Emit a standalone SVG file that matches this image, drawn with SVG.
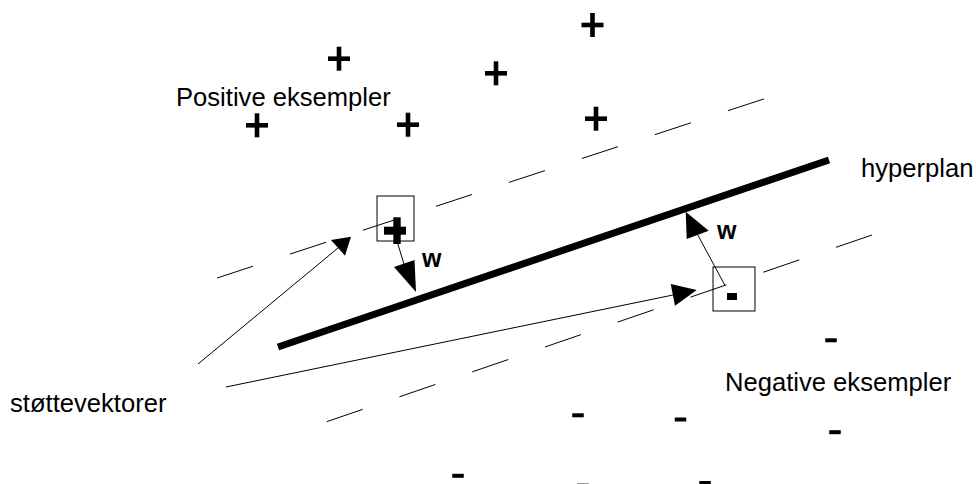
<svg xmlns="http://www.w3.org/2000/svg" xmlns:xlink="http://www.w3.org/1999/xlink" width="976" height="484" viewBox="0 0 976 484">
  <style>
    .lbl { font-family: "Liberation Sans", Arial, sans-serif; font-size: 25.6px; fill: #000; }
    .w { font-family: "Liberation Sans", Arial, sans-serif; font-size: 25px; font-weight: bold; fill: #000; }
    .thin { stroke: #000; stroke-width: 1; fill: none; }
    .box { stroke: #000; stroke-width: 1; fill: none; }
    .head { fill: #000; stroke: none; }
    .margin { stroke: #000; stroke-width: 1; fill: none; }
  </style>
  <defs>
    <g id="plus">
      <rect x="-11" y="-2.3" width="22" height="4.6" fill="#000"/>
      <rect x="-2.3" y="-12" width="4.6" height="24" fill="#000"/>
    </g>
    <rect id="minus" x="-5.75" y="-2" width="11.5" height="4" fill="#000"/>
  </defs>
  <rect width="976" height="484" fill="#fff"/>

  <g id="margin-positive">
    <line class="margin" x1="217" y1="278" x2="764" y2="98.9" stroke-dasharray="37.9 38.9"/>
  </g>
  <g id="margin-negative">
    <line class="margin" x1="326.7" y1="421.7" x2="872" y2="235" stroke-dasharray="38.05 38.85"/>
  </g>

  <g id="hyperplane">
    <line x1="278" y1="347" x2="829" y2="160" stroke="#000" stroke-width="7"/>
    <text class="lbl" x="861" y="177">hyperplan</text>
  </g>

  <g id="positive-examples">
    <text class="lbl" x="176" y="106">Positive eksempler</text>
    <use xlink:href="#plus" x="592.5" y="25"/>
    <use xlink:href="#plus" x="339" y="58.7"/>
    <use xlink:href="#plus" x="496" y="73.3"/>
    <use xlink:href="#plus" x="257" y="125.3"/>
    <use xlink:href="#plus" x="408" y="124.7"/>
    <use xlink:href="#plus" x="596" y="118.7"/>
  </g>

  <g id="negative-examples">
    <text class="lbl" x="725" y="391">Negative eksempler</text>
    <use xlink:href="#minus" x="831" y="340.3"/>
    <use xlink:href="#minus" x="578" y="415.3"/>
    <use xlink:href="#minus" x="680.5" y="419.5"/>
    <use xlink:href="#minus" x="835" y="432.2"/>
    <use xlink:href="#minus" x="458" y="475.8"/>
    <use xlink:href="#minus" x="705" y="483"/>
    <use xlink:href="#minus" x="583" y="485.6"/>
  </g>

  <g id="support-vector-positive">
    <rect class="box" x="377" y="196" width="37" height="45"/>
    <rect x="384" y="226.7" width="22" height="8" fill="#000"/>
    <rect x="393.3" y="217.3" width="7.4" height="26.7" fill="#000"/>
  </g>

  <g id="support-vector-negative">
    <rect class="box" x="713" y="267" width="42" height="44"/>
    <rect x="727" y="293" width="10" height="7" fill="#000"/>
  </g>

  <g id="support-vector-label">
    <text class="lbl" x="10" y="412">støttevektorer</text>
  </g>

  <g id="connectors">
    <line class="thin" x1="396" y1="238" x2="404" y2="264"/>
    <polygon class="head" points="394,267 414.5,260 416,292"/>
    <text class="w" x="422" y="267">w</text>
    <line class="thin" x1="725" y1="285.5" x2="697.7" y2="234.8"/>
    <polygon class="head" points="686.7,239 708.7,230.7 685.7,211.7"/>
    <text class="w" x="717" y="238.5">w</text>
    <line class="thin" x1="198" y1="364" x2="338" y2="248"/>
    <polygon class="head" points="331,240 345,255.7 351,236.7"/>
    <line class="thin" x1="226" y1="387" x2="673" y2="295"/>
    <polygon class="head" points="670.7,284 675,305.7 696.7,290"/>
  </g>
</svg>
